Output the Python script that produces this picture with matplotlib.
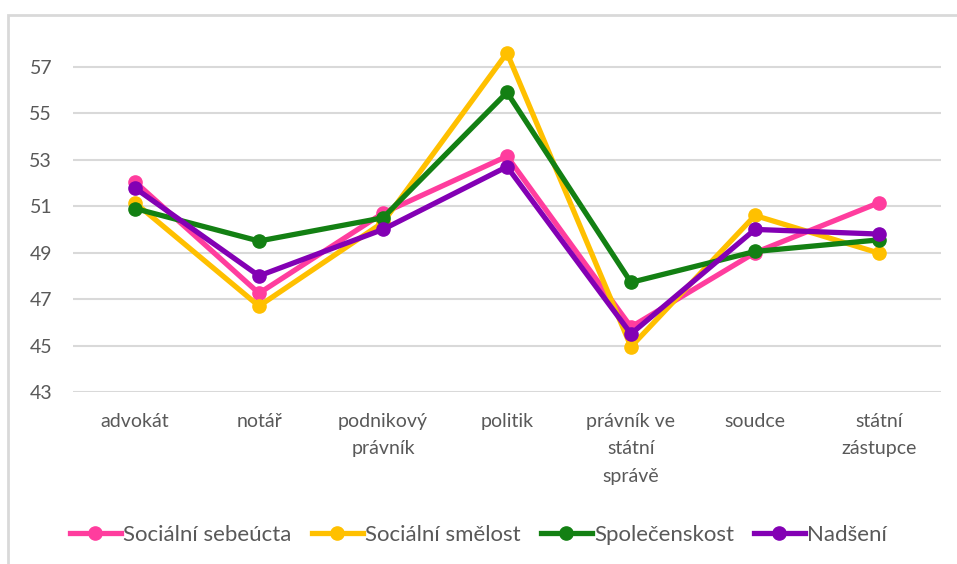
import matplotlib.pyplot as plt
from matplotlib.patches import Rectangle

plt.rcParams['font.family'] = ['Lato', 'DejaVu Sans']

categories = ['advokát', 'notář', 'podnikový\nprávník', 'politik',
              'právník ve\nstátní\nsprávě', 'soudce', 'státní\nzástupce']

socialni_sebeucta = [52.05, 47.25, 50.7, 53.15, 45.8, 49.0, 51.15]
socialni_smelost = [51.15, 46.7, 50.3, 57.6, 44.95, 50.6, 48.98]
spolecenskost = [50.9, 49.5, 50.5, 55.9, 47.72, 49.05, 49.55]
nadseni = [51.78, 48.0, 50.0, 52.7, 45.5, 50.0, 49.8]

series = [
    ('Sociální sebeúcta', socialni_sebeucta, '#ff3d9e'),
    ('Sociální smělost', socialni_smelost, '#ffc000'),
    ('Společenskost', spolecenskost, '#138013'),
    ('Nadšení', nadseni, '#8300b4'),
]

yticks = [43, 45, 47, 49, 51, 53, 55, 57]

fig = plt.figure(figsize=(9.57, 5.64), dpi=100)
ax = fig.add_axes([73 / 957, 1 - 392 / 564, (941 - 73) / 957, (392 - 32) / 564])

x = list(range(len(categories)))
for name, vals, col in series:
    ax.plot(x, vals, color=col, lw=3.8, marker='o', markersize=9.5,
            label=name, solid_joinstyle='round', zorder=3)

ax.set_xlim(-0.5, len(categories) - 0.5)
ax.set_ylim(43, 58.5)
ax.set_yticks(yticks)
ax.set_xticks(x)
ax.set_xticklabels(categories, linespacing=1.75)
ax.tick_params(axis='both', length=0, labelsize=14, colors='#595959')
ax.tick_params(axis='x', pad=15)
ax.tick_params(axis='y', pad=15)
for s in ax.spines.values():
    s.set_visible(False)
ax.grid(axis='y', color='#d9d9d9', lw=1.5)
ax.set_axisbelow(True)

leg = fig.legend(loc='center', bbox_to_anchor=(0.5, 1 - 535 / 564), ncol=4,
                 frameon=False, fontsize=16, handlelength=2.3,
                 handletextpad=0.1, columnspacing=0.9)
for t in leg.get_texts():
    t.set_color('#595959')

# chart border (top and left visible)
fig.patches.append(Rectangle((8 / 957, -0.05), 1.0, 1 - 15 / 564 + 0.05,
                             transform=fig.transFigure, fill=False,
                             edgecolor='#d9d9d9', lw=2))

fig.savefig('out.png', dpi=100)
